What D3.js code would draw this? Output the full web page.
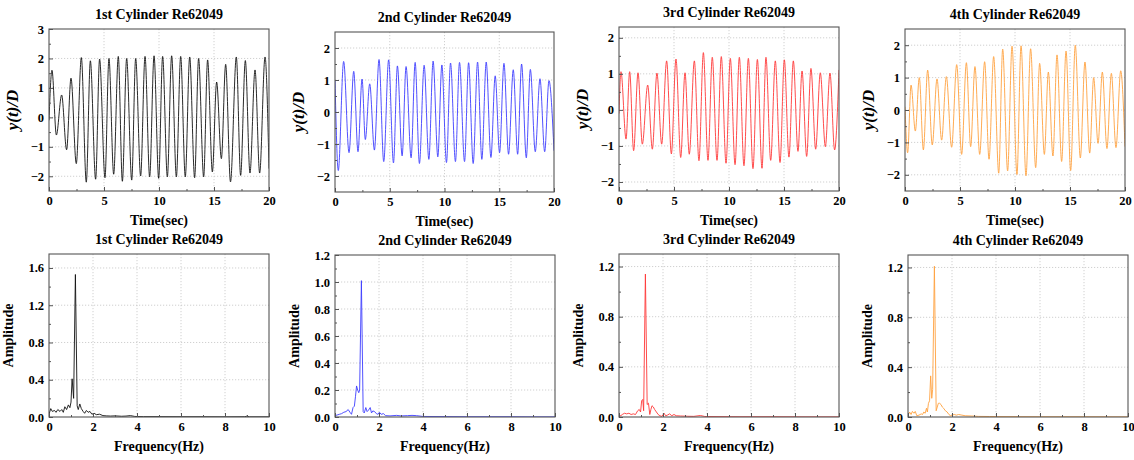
<!DOCTYPE html>
<html>
<head>
<meta charset="utf-8">
<script src="https://cdn.jsdelivr.net/npm/d3@7"></script>
<style>
  body { margin: 0; background: #fff; }
  svg { display: block; }
  text { font-family: "Liberation Serif", "Times New Roman", serif; font-weight: bold; fill: #000; }
</style>
</head>
<body>
<svg id="chart" width="1134" height="460"></svg>
<script>
// time histories, [time (s), y/D] at each turning point
var disp1 = [[0,-0.1],[0.27,1.6],[0.67,-0.6],[1.15,0.76],[1.6,-1.1],[2.0,1.33],[2.48,-1.57],[2.94,2.03],[3.39,-2.2],[3.76,1.92],
  [4.24,-2.1],[4.6,1.98],[5.09,-2.05],[5.45,2.0],[5.88,-1.93],[6.3,2.07],[6.67,-2.17],[7.06,2.0],[7.52,-2.13],[7.88,2.0],
  [8.33,-1.99],[8.73,2.07],[9.15,-2.02],[9.55,2.09],[9.97,-2.07],[10.33,2.07],[10.76,-2.02],[11.15,2.09],[11.58,-2.02],
  [11.97,2.07],[12.39,-2.02],[12.79,2.05],[13.24,-2.05],[13.6,2.0],[14.06,-2.02],[14.42,1.95],[14.85,-1.85],[15.24,1.2],
  [15.67,-1.4],[16.06,1.8],[16.5,-2.19],[17.03,2.05],[17.42,-1.97],[17.85,1.93],[18.27,-1.89],[18.73,1.61],[19.15,-1.89],
  [19.64,2.05],[20,-1.74]];
var disp2 = [[0,1.0],[0.3,-1.83],[0.79,1.58],[1.28,-1.27],[1.71,1.27],[2.1,-1.24],[2.47,1.03],[2.77,-0.86],[3.17,0.88],
  [3.6,-1.19],[4.02,1.64],[4.45,-1.55],[4.9,1.63],[5.34,-1.59],[5.7,1.44],[6.13,-1.37],[6.49,1.42],[6.95,-1.43],[7.32,1.55],
  [7.71,-1.61],[8.14,1.46],[8.57,-1.48],[8.96,1.59],[9.39,-1.4],[9.76,1.47],[10.18,-1.58],[10.55,1.53],[11.0,-1.55],
  [11.37,1.55],[11.83,-1.55],[12.2,1.54],[12.62,-1.61],[13.02,1.56],[13.41,-1.48],[13.81,1.56],[14.24,-1.42],[14.63,1.13],
  [15.03,-1.27],[15.43,1.52],[15.85,-1.32],[16.28,1.32],[16.68,-1.32],[17.04,1.5],[17.47,-1.43],[17.84,1.33],[18.29,-1.24],
  [18.72,1.04],[19.15,-1.24],[19.54,0.98],[20,-1.21]];
var disp3 = [[0,-0.1],[0.18,1.06],[0.64,-0.81],[0.97,1.06],[1.33,-1.13],[1.73,1.03],[2.12,-0.95],[2.61,0.69],[3.03,-1.09],
  [3.45,1.02],[3.88,-0.95],[4.33,1.36],[4.76,-1.22],[5.18,1.41],[5.61,-1.32],[6.0,1.03],[6.39,-1.23],[6.85,1.36],[7.27,-1.41],
  [7.67,1.59],[8.09,-1.4],[8.48,1.46],[8.91,-1.4],[9.3,1.48],[9.73,-1.48],[10.12,1.43],[10.55,-1.52],[10.94,1.46],
  [11.36,-1.55],[11.76,1.43],[12.18,-1.63],[12.58,1.4],[13.0,-1.62],[13.36,1.46],[13.79,-1.4],[14.21,1.36],[14.64,-1.46],
  [15.03,1.39],[15.45,-1.31],[15.85,1.36],[16.27,-1.15],[16.64,1.08],[17.06,-1.29],[17.45,1.15],[17.88,-1.09],[18.3,1.03],
  [18.76,-1.02],[19.18,1.02],[19.6,-1.11],[20,1.11]];
var disp4 = [[0,0.1],[0.24,-1.32],[0.55,0.77],[0.94,-0.65],[1.3,1.0],[1.67,-1.23],[2.06,1.23],[2.48,-1.08],[2.91,0.96],
  [3.33,-0.93],[3.76,1.03],[4.24,-1.15],[4.7,1.4],[5.15,-1.37],[5.58,1.46],[5.97,-1.13],[6.36,1.34],[6.79,-1.37],[7.24,1.49],
  [7.64,-1.52],[8.06,1.65],[8.52,-1.95],[8.88,1.88],[9.33,-1.88],[9.73,1.97],[10.18,-1.99],[10.55,1.98],[11.0,-2.03],
  [11.42,1.89],[11.88,-1.78],[12.24,1.44],[12.67,-1.37],[13.03,1.17],[13.45,-1.42],[13.82,1.7],[14.24,-1.59],[14.64,1.82],
  [15.06,-1.87],[15.48,2.0],[15.94,-1.48],[16.36,1.48],[16.79,-1.33],[17.15,1.0],[17.55,-1.03],[17.94,1.17],[18.36,-1.19],
  [18.76,1.13],[19.18,-1.16],[19.61,1.21],[20,-1.13]];

// amplitude spectra, [frequency (Hz), amplitude]
var spec1 = [[0,0.03],[0.08,0.09],[0.15,0.06],[0.25,0.07],[0.32,0.05],[0.4,0.08],[0.5,0.06],[0.58,0.08],[0.65,0.05],
  [0.72,0.11],[0.8,0.08],[0.88,0.13],[0.95,0.1],[1.0,0.16],[1.05,0.41],[1.12,0.2],[1.2,1.53],[1.28,0.12],[1.33,0.08],
  [1.4,0.14],[1.47,0.09],[1.55,0.06],[1.62,0.04],[1.7,0.07],[1.78,0.05],[1.86,0.06],[1.95,0.03],[2.05,0.04],[2.15,0.025],
  [2.3,0.03],[2.45,0.015],[2.6,0.012],[2.8,0.01],[3.0,0.012],[3.3,0.008],[3.5,0.01],[3.7,0.015],[3.9,0.006],[4.3,0.004],
  [5,0.004],[6,0.003],[7,0.003],[8,0.002],[8.9,0.003],[9.0,0.01],[9.1,0.002],[10,0.002]];
var spec2 = [[0,0.01],[0.1,0.015],[0.2,0.02],[0.3,0.025],[0.4,0.035],[0.5,0.04],[0.6,0.055],[0.68,0.035],[0.75,0.02],
  [0.82,0.07],[0.88,0.08],[0.93,0.15],[0.98,0.23],[1.03,0.2],[1.08,0.18],[1.12,0.2],[1.2,1.01],[1.28,0.04],[1.33,0.03],
  [1.4,0.07],[1.46,0.04],[1.52,0.05],[1.6,0.07],[1.66,0.03],[1.72,0.045],[1.8,0.04],[1.88,0.025],[1.95,0.02],[2.02,0.035],
  [2.1,0.02],[2.2,0.025],[2.3,0.01],[2.5,0.008],[2.8,0.012],[3.0,0.008],[3.3,0.01],[3.5,0.012],[3.7,0.01],[4.0,0.004],
  [5,0.003],[6,0.002],[7,0.002],[8,0.002],[9,0.001],[10,0.001]];
var spec3 = [[0,0.02],[0.08,0.01],[0.15,0.02],[0.25,0.03],[0.35,0.025],[0.45,0.03],[0.55,0.02],[0.65,0.025],[0.75,0.02],
  [0.85,0.05],[0.92,0.06],[0.98,0.04],[1.03,0.13],[1.08,0.14],[1.12,0.05],[1.2,1.14],[1.28,0.1],[1.34,0.11],[1.4,0.02],
  [1.45,0.06],[1.5,0.09],[1.56,0.08],[1.62,0.06],[1.7,0.04],[1.78,0.02],[1.86,0.01],[1.95,0.005],[2.05,0.03],[2.12,0.01],
  [2.2,0.015],[2.3,0.025],[2.4,0.01],[2.5,0.02],[2.6,0.01],[2.8,0.008],[3.1,0.006],[3.4,0.005],[3.7,0.012],[3.9,0.004],
  [4.5,0.003],[5.5,0.002],[7,0.002],[8.5,0.001],[10,0.001]];
var spec4 = [[0,0.01],[0.07,0.04],[0.14,0.02],[0.2,0.045],[0.27,0.03],[0.33,0.045],[0.4,0.01],[0.5,0.015],[0.6,0.025],
  [0.66,0.02],[0.72,0.04],[0.78,0.03],[0.84,0.07],[0.88,0.04],[0.93,0.11],[0.98,0.13],[1.03,0.33],[1.08,0.15],[1.12,0.22],
  [1.2,1.21],[1.28,0.05],[1.33,0.08],[1.38,0.11],[1.44,0.11],[1.5,0.1],[1.56,0.08],[1.62,0.07],[1.7,0.05],[1.78,0.04],
  [1.86,0.02],[1.94,0.01],[2.0,0.015],[2.1,0.02],[2.2,0.015],[2.3,0.02],[2.45,0.015],[2.6,0.01],[2.9,0.008],[3.2,0.005],
  [3.7,0.004],[4.5,0.003],[6,0.002],[8,0.002],[10,0.001]];

var titles = ["1st Cylinder Re62049", "2nd Cylinder Re62049", "3rd Cylinder Re62049", "4th Cylinder Re62049"];
var colors = ["#111111", "#3d3dff", "#ff3838", "#ffa23f"];

var timeTicks = [0, 5, 10, 15, 20];
var timeMinor = [2.5, 7.5, 12.5, 17.5];
var freqTicks = [0, 2, 4, 6, 8, 10];
var freqMinor = [1, 3, 5, 7, 9];

// panel boxes (pixels) and y ranges
var panels = [
  { data: disp1, c: 0, kind: "time", x0: 49,  y0: 29,  w: 220, h: 162, yDom: [-2.5, 3],    yT: [-2, -1, 0, 1, 2, 3], yM: [-1.5, -0.5, 0.5, 1.5, 2.5] },
  { data: disp2, c: 1, kind: "time", x0: 335, y0: 32,  w: 219, h: 160, yDom: [-2.5, 2.5],  yT: [-2, -1, 0, 1, 2], yM: [-1.5, -0.5, 0.5, 1.5] },
  { data: disp3, c: 2, kind: "time", x0: 619, y0: 27,  w: 220, h: 164, yDom: [-2.25, 2.3], yT: [-2, -1, 0, 1, 2], yM: [-1.5, -0.5, 0.5, 1.5] },
  { data: disp4, c: 3, kind: "time", x0: 905, y0: 29,  w: 220, h: 162, yDom: [-2.5, 2.5],  yT: [-2, -1, 0, 1, 2], yM: [-1.5, -0.5, 0.5, 1.5] },
  { data: spec1, c: 0, kind: "freq", x0: 49,  y0: 254, w: 220, h: 163, yDom: [0, 1.75], yT: [0, 0.4, 0.8, 1.2, 1.6], yM: [0.2, 0.6, 1.0, 1.4] },
  { data: spec2, c: 1, kind: "freq", x0: 335, y0: 255, w: 220, h: 162, yDom: [0, 1.2],  yT: [0, 0.2, 0.4, 0.6, 0.8, 1.0, 1.2], yM: [0.1, 0.3, 0.5, 0.7, 0.9, 1.1] },
  { data: spec3, c: 2, kind: "freq", x0: 619, y0: 254, w: 220, h: 163, yDom: [0, 1.3],  yT: [0, 0.4, 0.8, 1.2], yM: [0.2, 0.6, 1.0] },
  { data: spec4, c: 3, kind: "freq", x0: 908, y0: 255, w: 220, h: 162, yDom: [0, 1.3],  yT: [0, 0.4, 0.8, 1.2], yM: [0.2, 0.6, 1.0] }
];

var svg = d3.select("#chart");

panels.forEach(function (p, i) {
  var isTime = p.kind === "time";
  var x = d3.scaleLinear().domain(isTime ? [0, 20] : [0, 10]).range([0, p.w]);
  var y = d3.scaleLinear().domain(p.yDom).range([p.h, 0]);
  var xT = isTime ? timeTicks : freqTicks;
  var xM = isTime ? timeMinor : freqMinor;

  var g = svg.append("g").attr("transform", "translate(" + p.x0 + "," + p.y0 + ")");

  g.append("clipPath").attr("id", "clip" + i)
    .append("rect").attr("width", p.w).attr("height", p.h);

  // dotted grid
  g.selectAll(".gx").data(xT.filter(function (d) { return x(d) > 1 && x(d) < p.w - 1; }))
    .enter().append("line")
    .attr("x1", function (d) { return x(d); }).attr("x2", function (d) { return x(d); })
    .attr("y1", 0).attr("y2", p.h)
    .attr("stroke", "#c4c4c4").attr("stroke-width", 0.8).attr("stroke-dasharray", "1.2,1.8");
  g.selectAll(".gy").data(p.yT.filter(function (d) { return y(d) > 1 && y(d) < p.h - 1; }))
    .enter().append("line")
    .attr("x1", 0).attr("x2", p.w)
    .attr("y1", function (d) { return y(d); }).attr("y2", function (d) { return y(d); })
    .attr("stroke", "#c4c4c4").attr("stroke-width", 0.8).attr("stroke-dasharray", "1.2,1.8");

  // signal
  var line = d3.line()
    .x(function (d) { return x(d[0]); })
    .y(function (d) { return y(d[1]); })
    .curve(isTime ? d3.curveMonotoneX : d3.curveLinear);
  g.append("path")
    .datum(p.data)
    .attr("clip-path", "url(#clip" + i + ")")
    .attr("fill", "none")
    .attr("stroke", colors[p.c])
    .attr("stroke-width", 0.9)
    .attr("d", line);

  // axes, ticks pointing inward
  g.append("g").attr("transform", "translate(0," + p.h + ")")
    .call(d3.axisBottom(x).tickValues(xT).tickFormat(d3.format("d")).tickSizeInner(-4).tickSizeOuter(0).tickPadding(5));
  g.append("g").attr("transform", "translate(0," + p.h + ")")
    .call(d3.axisBottom(x).tickValues(xM).tickFormat("").tickSizeInner(-2).tickSizeOuter(0));
  g.append("g")
    .call(d3.axisLeft(y).tickValues(p.yT).tickFormat(d3.format(isTime ? "d" : ".1f")).tickSizeInner(-4).tickSizeOuter(0).tickPadding(5));
  g.append("g")
    .call(d3.axisLeft(y).tickValues(p.yM).tickFormat("").tickSizeInner(-2).tickSizeOuter(0));

  g.selectAll(".domain").remove();
  g.selectAll(".tick line").attr("stroke", "#555");
  g.selectAll(".tick text").style("font-family", "'Liberation Serif', serif")
    .style("font-weight", "bold").style("font-size", "12.5px").attr("fill", "#000");

  // frame
  g.append("rect").attr("width", p.w).attr("height", p.h)
    .attr("fill", "none").attr("stroke", "#555").attr("stroke-width", 1.1);

  // labels
  g.append("text").attr("x", p.w / 2).attr("y", -10)
    .attr("text-anchor", "middle").style("font-size", "14px").text(titles[p.c]);
  g.append("text").attr("x", p.w / 2).attr("y", p.h + 34)
    .attr("text-anchor", "middle").style("font-size", "14px")
    .text(isTime ? "Time(sec)" : "Frequency(Hz)");
  g.append("text")
    .attr("transform", "translate(" + (isTime ? -31 : -36) + "," + (p.h / 2) + ") rotate(-90)")
    .attr("text-anchor", "middle").style("font-size", isTime ? "17px" : "14px")
    .style("font-style", isTime ? "italic" : "normal")
    .text(isTime ? "y(t)/D" : "Amplitude");
});
</script>
</body>
</html>
